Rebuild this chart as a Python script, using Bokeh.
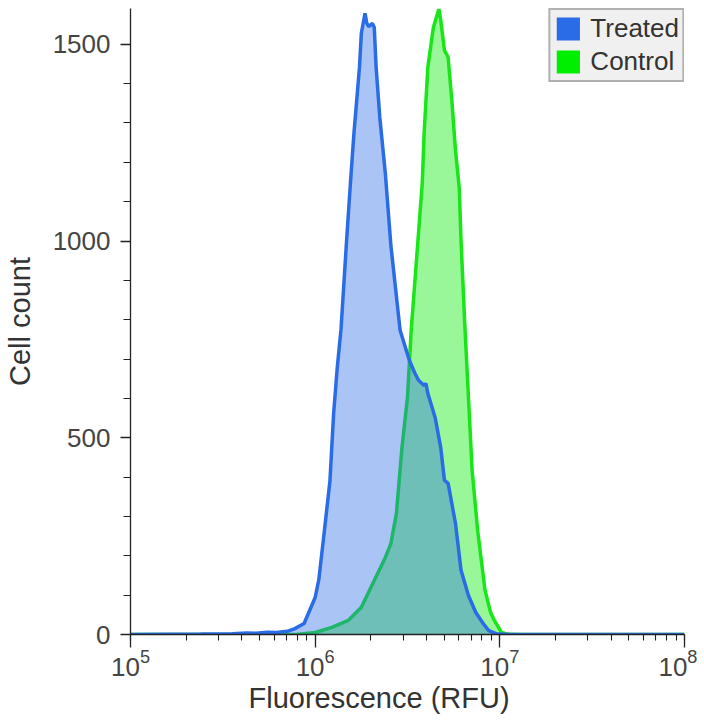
import numpy as np
from bokeh.plotting import figure
from bokeh.models import (ColumnDataSource, LogTicker, SingleIntervalTicker,
                          Legend, LegendItem, Range1d, Title)
from bokeh.embed import file_html
from bokeh.resources import INLINE

# ---- data (log10 of fluorescence, cell count) ----
treated_log_rfu = [5.00, 5.38, 5.55, 5.63, 5.68, 5.74, 5.79, 5.85, 5.89, 5.94,
                   6.00, 6.02, 6.05, 6.08, 6.10, 6.12, 6.14, 6.17, 6.19, 6.21,
                   6.24, 6.25, 6.27, 6.28, 6.29, 6.31, 6.32, 6.33, 6.35, 6.38,
                   6.41, 6.46, 6.51, 6.54, 6.56, 6.59, 6.60, 6.61, 6.65, 6.68,
                   6.70, 6.72, 6.76, 6.79, 6.83, 6.87, 6.91, 6.94, 6.98, 7.06,
                   8.00]
treated_count = [0, 1, 2, 4, 3, 6, 5, 8, 15, 28,
                 94, 140, 264, 390, 562, 680, 776, 1000, 1141, 1274,
                 1442, 1528, 1579, 1553, 1545, 1553, 1543, 1442, 1314, 1172,
                 989, 773, 697, 664, 646, 633, 638, 613, 551, 475,
                 392, 384, 282, 163, 99, 56, 28, 10, 2, 0,
                 0]

control_log_rfu = [5.00, 5.90, 6.00, 6.09, 6.18, 6.25, 6.32, 6.38, 6.41, 6.44,
                   6.47, 6.50, 6.52, 6.55, 6.58, 6.59, 6.61, 6.64, 6.67, 6.68,
                   6.70, 6.72, 6.74, 6.76, 6.78, 6.79, 6.81, 6.85, 6.88, 6.92,
                   6.95, 6.97, 7.01, 7.04, 7.12, 8.00]
control_count = [0, 0, 5, 18, 36, 69, 137, 196, 231, 308,
                 475, 603, 773, 960, 1147, 1274, 1441, 1543, 1590, 1561,
                 1485, 1467, 1358, 1230, 1136, 1000, 790, 417, 264, 112,
                 56, 36, 5, 1, 0, 0]

series_names = ["Treated", "Control"]
x_label = "Fluorescence (RFU)"
y_label = "Cell count"
x_range = (1e5, 1e8)
y_max = 1591

FONT = "Liberation Sans"
BLUE = "#2a6be6"
GREEN = "#18e618"
BLUE_LEG = "#2a6be8"
GREEN_LEG = "#00ee00"

treated_src = ColumnDataSource(dict(x=10 ** np.array(treated_log_rfu),
                                    y=np.array(treated_count, dtype=float),
                                    z=np.zeros(len(treated_count))))
control_src = ColumnDataSource(dict(x=10 ** np.array(control_log_rfu),
                                    y=np.array(control_count, dtype=float),
                                    z=np.zeros(len(control_count))))

p = figure(x_axis_type="log", frame_width=554, frame_height=626,
           x_range=Range1d(*x_range), y_range=Range1d(0, y_max),
           output_backend="svg", toolbar_location=None,
           min_border_left=129, min_border_right=13, min_border_top=8,
           min_border_bottom=0)
p.outline_line_color = None
p.xgrid.visible = False
p.ygrid.visible = False
p.background_fill_color = "white"

# fills & lines
p.varea(x="x", y1="z", y2="y", source=control_src, fill_color="#00eb00", fill_alpha=0.4)
p.line(x="x", y="y", source=control_src, line_color=GREEN, line_width=3.5)
p.varea(x="x", y1="z", y2="y", source=treated_src, fill_color=BLUE, fill_alpha=0.4)
p.line(x="x", y="y", source=treated_src, line_color=BLUE, line_width=3.5)

# legend proxies (solid swatches, no visible data)
proxy = ColumnDataSource(dict(l=[np.nan], r=[np.nan], b=[np.nan], t=[np.nan]))
leg_t = p.quad(left="l", right="r", bottom="b", top="t", source=proxy,
               fill_color=BLUE_LEG, fill_alpha=1, line_color=None)
leg_c = p.quad(left="l", right="r", bottom="b", top="t", source=proxy,
               fill_color=GREEN_LEG, fill_alpha=1, line_color=None)
legend = Legend(items=[LegendItem(label=series_names[0], renderers=[leg_t]),
                       LegendItem(label=series_names[1], renderers=[leg_c])],
                location="top_right", margin=0, padding=3, spacing=2,
                glyph_width=29, glyph_height=29, label_height=29,
                label_standoff=8, label_text_font=FONT,
                label_text_font_size="26px", label_text_color="#333333",
                background_fill_color="#f0f0f0", background_fill_alpha=1,
                border_line_color="#707070", border_line_width=2)
p.add_layout(legend, "center")

# axes
for ax in (p.xaxis[0], p.yaxis[0]):
    ax.axis_line_color = "#222222"
    ax.axis_line_width = 1.3
    ax.major_tick_line_color = "#222222"
    ax.minor_tick_line_color = "#222222"
    ax.major_tick_line_width = 1.3
    ax.minor_tick_line_width = 1.1
    ax.major_tick_in = 0
    ax.minor_tick_in = 0
    ax.major_label_text_font = FONT
    ax.major_label_text_font_size = "26px"
    ax.major_label_text_color = "#444444"
    ax.axis_label_text_font = FONT
    ax.axis_label_text_font_size = "29px"
    ax.axis_label_text_font_style = "normal"
    ax.axis_label_text_color = "#333333"

p.xaxis.ticker = LogTicker(desired_num_ticks=4, num_minor_ticks=10)
p.xaxis.major_tick_out = 13
p.xaxis.minor_tick_out = 6
p.xaxis.major_label_standoff = 1

# x axis title sits left of the frame centre in the reference
x_title = Title(text=x_label, align="left", offset=118, standoff=2,
                text_font=FONT, text_font_size="29px", text_font_style="normal",
                text_color="#333333")
p.add_layout(x_title, "below")

p.yaxis.ticker = SingleIntervalTicker(interval=500, num_minor_ticks=5)
p.yaxis.major_tick_out = 10
p.yaxis.minor_tick_out = 7
p.yaxis.major_label_standoff = 10
p.yaxis.axis_label = y_label
p.yaxis.axis_label_standoff = 14

open("out.html", "w").write(file_html(p, INLINE))
